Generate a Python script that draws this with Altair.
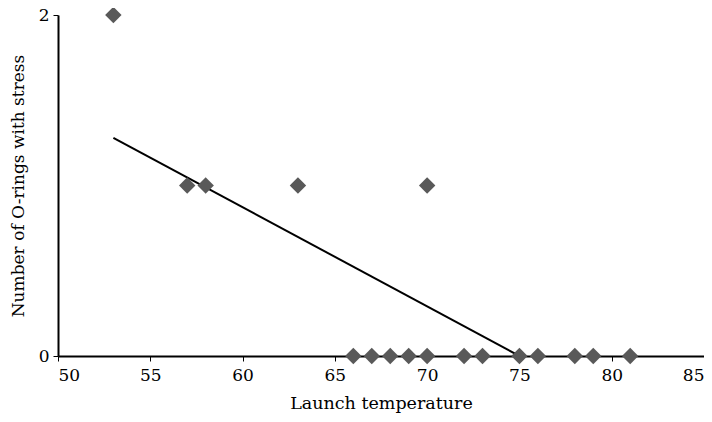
import altair as alt
import pandas as pd

temps = [53, 57, 58, 63, 70, 66, 67, 68, 69, 70, 72, 73, 75, 76, 78, 79, 81]
rings = [2, 1, 1, 1, 1, 0, 0, 0, 0, 0, 0, 0, 0, 0, 0, 0, 0]
line_x = [53, 75]
line_y = [1.28, 0]
x_ticks = [50, 55, 60, 65, 70, 75, 80, 85]
y_ticks = [0, 1, 2]

pts = pd.DataFrame({"t": temps, "n": rings})
ln = pd.DataFrame({"t": line_x, "n": line_y})

font = "DejaVu Serif"

xs = alt.Scale(domain=[50, 85], nice=False, zero=False)
ys = alt.Scale(domain=[0, 2], nice=False)

xax = alt.Axis(values=x_ticks, title="Launch temperature", grid=False,
               tickSize=5, labelPadding=6, titlePadding=11, titleFontSize=17.5)
yax = alt.Axis(values=y_ticks, title="Number of O-rings with stress", grid=False,
               tickSize=5, labelPadding=4, titlePadding=11, format="d",
               titleFontSize=17)

line = alt.Chart(ln).mark_line(color="black", strokeWidth=2).encode(
    x=alt.X("t:Q", scale=xs, axis=xax),
    y=alt.Y("n:Q", scale=ys, axis=yax),
)

points = alt.Chart(pts).mark_point(shape="diamond", filled=True, size=270,
                                   color="#595959", opacity=1).encode(
    x=alt.X("t:Q", scale=xs),
    y=alt.Y("n:Q", scale=ys),
)

chart = alt.layer(line, points).properties(
    width=646, height=341,
    background="white",
    autosize=alt.AutoSizeParams(type="none"),
    padding={"left": 50, "top": 7, "right": 0, "bottom": 58},
).configure_view(stroke=None).configure_axis(
    domainColor="black", domainWidth=2, tickColor="black", tickWidth=1,
    labelFont=font, titleFont=font, labelFontSize=17,
    labelColor="black", titleColor="black", titleFontWeight="normal",
)

chart.save("out.html", embed_options={"renderer": "svg", "actions": False})
